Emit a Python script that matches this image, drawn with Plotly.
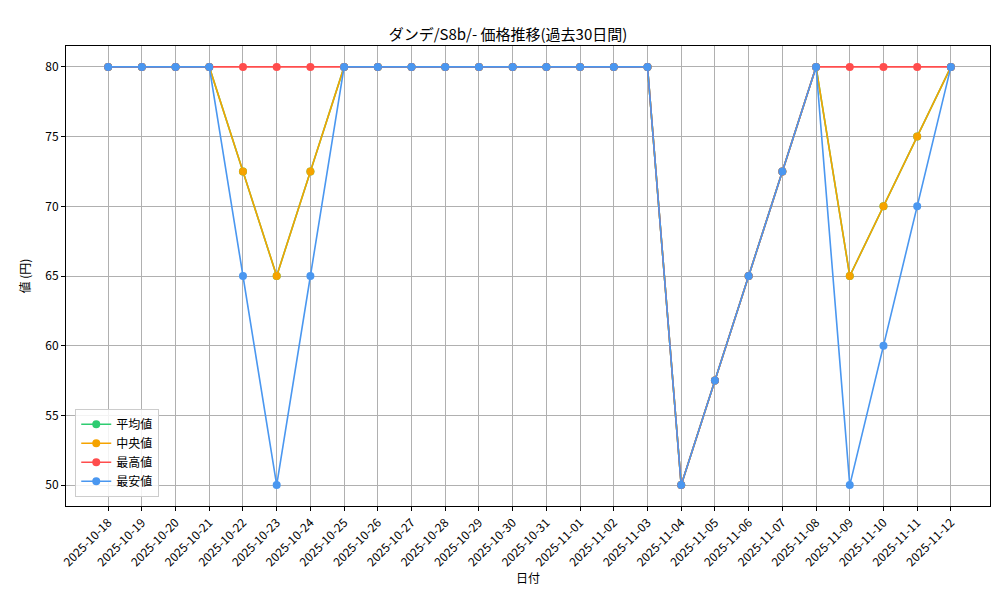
import plotly.graph_objects as go

dates = ["2025-10-18", "2025-10-19", "2025-10-20", "2025-10-21", "2025-10-22", "2025-10-23",
         "2025-10-24", "2025-10-25", "2025-10-26", "2025-10-27", "2025-10-28", "2025-10-29",
         "2025-10-30", "2025-10-31", "2025-11-01", "2025-11-02", "2025-11-03", "2025-11-04",
         "2025-11-05", "2025-11-06", "2025-11-07", "2025-11-08", "2025-11-09", "2025-11-10",
         "2025-11-11", "2025-11-12"]
mean_vals = [80, 80, 80, 80, 72.5, 65, 72.5, 80, 80, 80, 80, 80, 80, 80, 80, 80, 80,
             50, 57.5, 65, 72.5, 80, 65, 70, 75, 80]
median_vals = [80, 80, 80, 80, 72.5, 65, 72.5, 80, 80, 80, 80, 80, 80, 80, 80, 80, 80,
               50, 57.5, 65, 72.5, 80, 65, 70, 75, 80]
max_vals = [80, 80, 80, 80, 80, 80, 80, 80, 80, 80, 80, 80, 80, 80, 80, 80, 80,
            50, 57.5, 65, 72.5, 80, 80, 80, 80, 80]
min_vals = [80, 80, 80, 80, 65, 50, 65, 80, 80, 80, 80, 80, 80, 80, 80, 80, 80,
            50, 57.5, 65, 72.5, 80, 50, 60, 70, 80]

series = [("平均値", mean_vals, "#2ecc71"), ("中央値", median_vals, "#f5a300"),
          ("最高値", max_vals, "#ff4d4d"), ("最安値", min_vals, "#4a97f0")]

fig = go.Figure()
for name, vals, color in series:
    fig.add_trace(go.Scatter(x=list(range(len(dates))), y=vals, name=name, mode="lines+markers",
                             line=dict(color=color, width=1.6), marker=dict(size=8, color=color)))

axis = dict(showline=True, mirror=True, linecolor="black", linewidth=1, showgrid=True,
            gridcolor="#b0b0b0", gridwidth=1, ticks="outside", ticklen=4, tickcolor="black",
            zeroline=False, automargin=False, tickfont=dict(size=12, color="black"))
fig.update_xaxes(**axis, range=[-1.25, 26.16], tickvals=list(range(len(dates))), ticktext=dates,
                 tickangle=-45, title=dict(text="日付", font=dict(size=12), standoff=4))
fig.update_yaxes(**axis, range=[48.5, 81.5], tickvals=[50, 55, 60, 65, 70, 75, 80],
                 title=dict(text="値 (円)", font=dict(size=12), standoff=12))
fig.update_layout(
    width=1000, height=600, plot_bgcolor="white", paper_bgcolor="white",
    font=dict(family="Noto Sans CJK JP", color="black"),
    title=dict(text="ダンデ/S8b/- 価格推移(過去30日間)", x=0.5, xanchor="center", y=0.965, font=dict(size=15)),
    margin=dict(l=58, r=18, t=38, b=102),
    legend=dict(x=0.01, y=0.02, xanchor="left", yanchor="bottom", bgcolor="rgba(255,255,255,0.85)",
                bordercolor="#cccccc", borderwidth=1, font=dict(size=12)),
)
fig.write_html("out.html")
